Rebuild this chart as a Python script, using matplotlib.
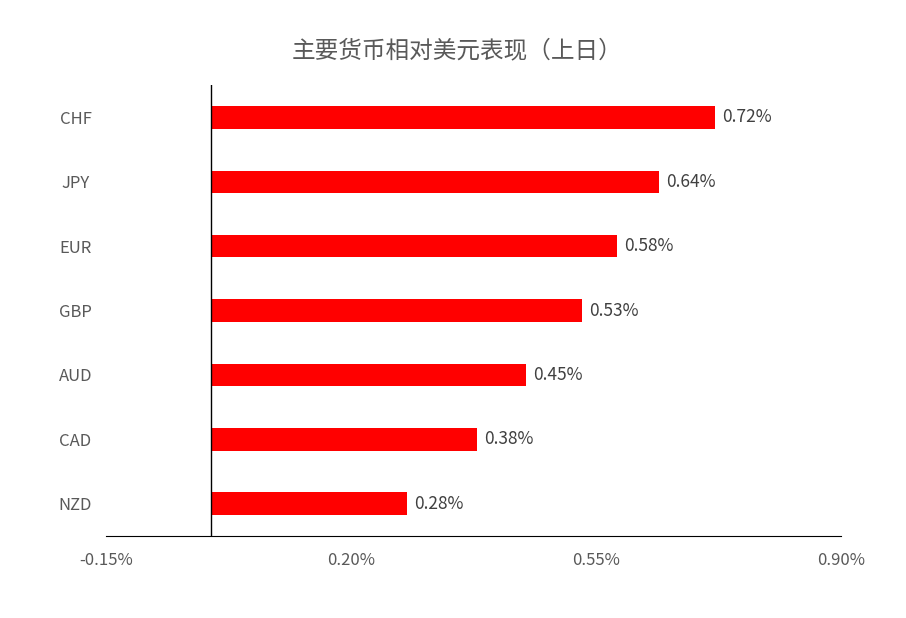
import matplotlib
matplotlib.use("Agg")
import matplotlib.pyplot as plt

plt.rcParams['font.family'] = ['Noto Sans CJK SC', 'DejaVu Sans']

categories = ["NZD", "CAD", "AUD", "GBP", "EUR", "JPY", "CHF"]
values = [0.28, 0.38, 0.45, 0.53, 0.58, 0.64, 0.72]
xticks = [-0.15, 0.20, 0.55, 0.90]
xtick_labels = ["-0.15%", "0.20%", "0.55%", "0.90%"]

fig = plt.figure(figsize=(9.06, 6.18), dpi=100)
ax = fig.add_axes([0.117, 0.133, 0.811, 0.729])
ax.barh(range(len(categories)), values, height=0.35, color="#FF0000")
for i, v in enumerate(values):
    ax.text(v + 0.01, i, f"{v:.2f}%", va="center", ha="left", fontsize=12.5, color="#404040")
ax.axvline(0, color="black", lw=1)
ax.set_xlim(-0.15, 0.90)
ax.set_ylim(-0.5, 6.5)
ax.set_xticks(xticks)
ax.set_xticklabels(xtick_labels, fontsize=12, color="#595959")
ax.set_yticks(range(len(categories)))
ax.set_yticklabels(categories, fontsize=12, color="#595959", ha="center")
ax.tick_params(length=0, pad=12)
ax.tick_params(axis="y", pad=22)
for s in ["top", "right", "left"]:
    ax.spines[s].set_visible(False)
ax.spines["bottom"].set_color("black")
fig.text(0.505, 0.918, "主要货币相对美元表现（上日）", ha="center", va="center", fontsize=17, color="#595959")
fig.savefig("out.png", dpi=100)
